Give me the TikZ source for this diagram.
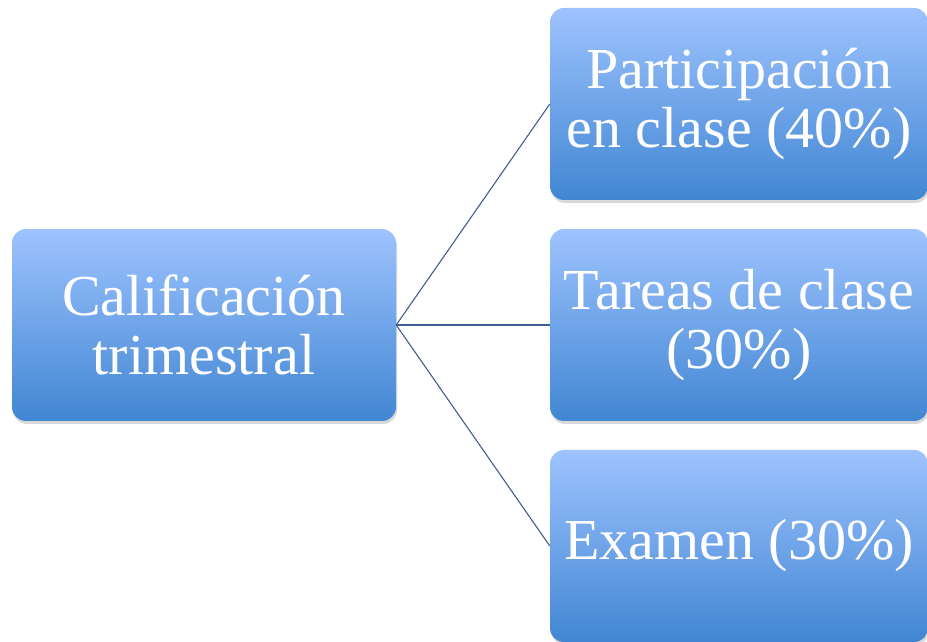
\documentclass[tikz,border=0pt]{standalone}
\usepackage{fontspec}
\setmainfont{Liberation Serif}
\usetikzlibrary{shadows}
\definecolor{boxtop}{HTML}{9EC3FE}
\definecolor{boxbot}{HTML}{4186D3}
\definecolor{linkcol}{HTML}{3F5F8E}
\tikzset{
	grade/.style={rounded corners=14pt, top color=boxtop, bottom color=boxbot,
		text=white, align=center, minimum height=192pt, inner sep=0pt,
		font=\fontsize{58}{59}\selectfont,
		drop shadow={opacity=0.3, shadow xshift=1pt, shadow yshift=-3pt}},
	link/.style={draw=linkcol, line width=1.1pt}
}
\begin{document}
\begin{tikzpicture}[x=1pt,y=1pt]
	\useasboundingbox (0,0) rectangle (927,642);
	\node[grade, minimum width=384pt] (C1) at (204,317){Calificación\\trimestral};
	\node[grade, minimum width=378pt] (P1) at (739,538){Participación\\en clase (40\%)};
	\node[grade, minimum width=378pt] (T1) at (739,317){Tareas de clase\\(30\%)};
	\node[grade, minimum width=378pt] (E1) at (739,96){Examen (30\%)};
	\draw [link] (C1.east) -- (P1.west);
	\draw [link] (C1.east) -- (T1.west);
	\draw [link] (C1.east) -- (E1.west);
\end{tikzpicture}
\end{document}
